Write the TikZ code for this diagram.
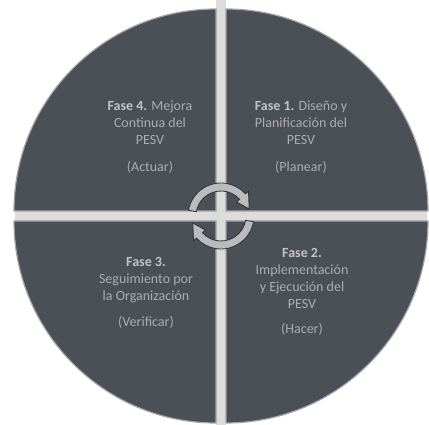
\documentclass[tikz,border=0pt]{standalone}
\usepackage{fontspec}
\setmainfont{Carlito}
\usetikzlibrary{positioning}

\definecolor{pesvdark}{HTML}{4B4F56}
\definecolor{pesvline}{HTML}{A3A6AB}
\definecolor{pesvgap}{HTML}{DCDCDC}
\definecolor{pesvtext}{HTML}{ABADB1}
\definecolor{pesvhead}{HTML}{C2C3C6}
\definecolor{pesvarrow}{HTML}{B9BBBF}
\definecolor{pesvedge}{HTML}{2E3136}

\newcommand{\fase}[1]{\textcolor{pesvhead}{\textbf{Fase #1.}}}

\begin{document}
\begin{tikzpicture}[
x=1pt, y=1pt,
sector/.style={
fill=pesvdark,
draw=pesvline,
line width=1.2pt
},
phase/.style={
align=center,
text=pesvtext,
font=\fontsize{14}{17}\selectfont
},
cycarrow/.style={
fill=pesvarrow,
draw=pesvedge,
line width=0.8pt
}
]
\useasboundingbox (0,0) rectangle (429,425);

\coordinate (cen) at (221,209);

% light cross between the quadrants
\fill[pesvgap] (216,0) rectangle (226,425);
\begin{scope}
\clip (cen) circle[radius=206];
\fill[pesvgap] (0,204) rectangle (429,214);
\end{scope}

% the four quadrants
\foreach \a/\dx/\dy in {0/5/5, 90/-5/5, 180/-5/-5, 270/5/-5}
\filldraw[sector] ([shift={(\dx,\dy)}]cen) -- ++(\a:202)
arc[start angle=\a, end angle=\a+90, radius=202] -- cycle;

% cycle arrows in the middle
\foreach \rot in {0,180}
\filldraw[cycarrow, shift={(cen)}, rotate=\rot]
(170:33) arc[start angle=170, end angle=42, radius=33]
-- (42:37) -- (14:29) -- (42:21) -- (42:25)
arc[start angle=42, end angle=170, radius=25] -- cycle;

\node[phase] (actuar) at (150,288)
{\fase{4} Mejora\\Continua del\\PESV\\[10pt](Actuar)};

\node[phase] (planear) at (301,288)
{\fase{1} Diseño y\\Planificación del\\PESV\\[10pt](Planear)};

\node[phase] (verificar) at (146,132)
{\fase{3}\\Seguimiento por\\la Organización\\[9pt](Verificar)};

\node[phase] (hacer) at (302,133)
{\fase{2}\\Implementación\\y Ejecución del\\PESV\\[8pt](Hacer)};

\end{tikzpicture}
\end{document}
